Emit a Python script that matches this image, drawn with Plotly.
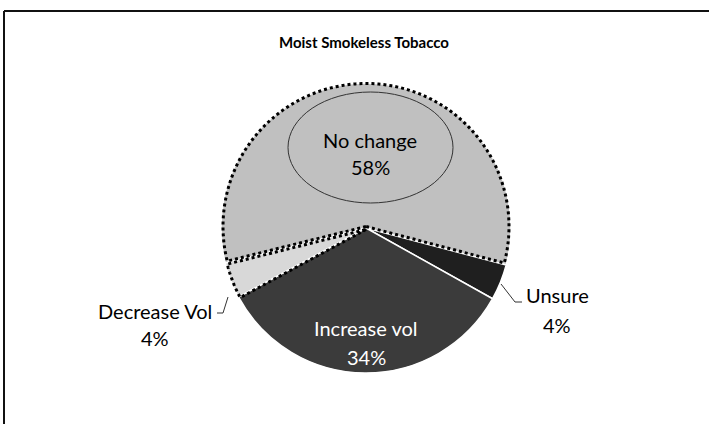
import numpy as np
import plotly.graph_objects as go

title = "Moist Smokeless Tobacco"
labels = ["No change", "Unsure", "Increase vol", "Decrease Vol"]
values = [58, 4, 34, 4]
colors = ["#c0c0c0", "#1f1f1f", "#3b3b3b", "#d8d8d8"]

W, H = 709, 424
cx, cy, r = 366, 228, 145
rotation = -104  # start angle of first slice (clockwise from 12 o'clock)

dx = [(cx - r) / W, (cx + r) / W]
dy = [(H - cy - r) / H, (H - cy + r) / H]

fig = go.Figure()
fig.add_trace(go.Pie(
    labels=labels, values=values, sort=False, direction="clockwise",
    rotation=rotation, textinfo="none", hoverinfo="label+percent",
    marker=dict(colors=colors, line=dict(color="white", width=1.5)),
    domain=dict(x=dx, y=dy), showlegend=False,
))

def px(x, y):
    return x / W, 1 - y / H

# dotted outlines of slices, computed from the data
total = sum(values)
starts = np.cumsum([0] + values[:-1]) / total * 360.0

def slice_path(i, inset=2.0, shift=0.0):
    a0 = rotation + starts[i]
    a1 = a0 + values[i] / total * 360.0
    t = np.deg2rad(90 - np.linspace(a0, a1, 160))
    rr = r - inset
    pts = [(cx, cy)] + [(cx + rr * np.cos(a), cy - rr * np.sin(a)) for a in t] + [(cx, cy)]
    segs = []
    for k, (x, y) in enumerate(pts):
        fx, fy = px(x, y + shift)
        segs.append(("M" if k == 0 else "L") + f"{fx:.5f},{fy:.5f}")
    return " ".join(segs) + " Z"

shapes = []
shapes.append(dict(type="path", xref="paper", yref="paper", path=slice_path(0, 2.0, -1.5),
                   line=dict(color="black", width=3, dash="dot")))
shapes.append(dict(type="path", xref="paper", yref="paper", path=slice_path(3, 2.0, 1.5),
                   line=dict(color="black", width=3, dash="dot")))

pct = [round(v / total * 100) for v in values]
font = "Lato, Open Sans, sans-serif"

def ann(text, x, y, color="black", size=20, bold=False):
    fx, fy = px(x, y)
    return dict(text=f"<b>{text}</b>" if bold else text, x=fx, y=fy, xref="paper", yref="paper",
                xanchor="center", yanchor="middle", showarrow=False,
                font=dict(size=size, color=color, family=font))

annotations = [ann(title, 364, 42, size=15, bold=True)]
label_pos = {  # (x, y of name line, y of percent line, color)
    0: (370, 140, 167, "black"),
    1: (557, 295, 325, "black"),
    2: (366, 328, 357, "white"),
    3: (155, 311, 338, "black"),
}
for i, (x, y1, y2, c) in label_pos.items():
    annotations.append(ann(labels[i], x, y1, c))
    annotations.append(ann(f"{pct[i]}%", x, y2, c))

# frame (left and top)
shapes.append(dict(type="line", xref="paper", yref="paper", x0=4 / W, y0=1 - 11 / H,
                   x1=1, y1=1 - 11 / H, line=dict(color="#111", width=2)))
shapes.append(dict(type="line", xref="paper", yref="paper", x0=4 / W, y0=1 - 11 / H,
                   x1=4 / W, y1=0, line=dict(color="#111", width=2)))
# ellipse around "No change"
x0, y0 = px(288, 92); x1, y1 = px(453, 203)
shapes.append(dict(type="circle", xref="paper", yref="paper", x0=x0, y0=y1, x1=x1, y1=y0,
                   line=dict(color="#333", width=1)))
# leader lines
for pts in ([(501, 284), (515, 302), (522, 302)], [(228, 297), (223, 313), (217, 313)]):
    for (a, b), (c, d) in zip(pts[:-1], pts[1:]):
        xa, ya = px(a, b); xc, yc = px(c, d)
        shapes.append(dict(type="line", xref="paper", yref="paper", x0=xa, y0=ya,
                           x1=xc, y1=yc, line=dict(color="#333", width=1)))

fig.update_layout(
    width=W, height=H, margin=dict(l=0, r=0, t=0, b=0),
    paper_bgcolor="white", plot_bgcolor="rgba(0,0,0,0)",
    annotations=annotations, shapes=shapes,
)

fig.write_html("out.html")
